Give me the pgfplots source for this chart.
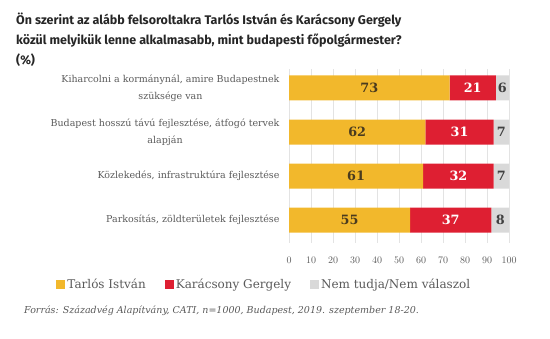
\documentclass[border=0pt]{standalone}
\usepackage{pgfplots}
\pgfplotsset{compat=1.18}
\usepackage{fontspec}
\setmainfont{DejaVu Serif}
\newfontfamily\titlefont{Fira Sans}
\definecolor{cyel}{HTML}{F2B82C}
\definecolor{cred}{HTML}{DE1F32}
\definecolor{cgray}{HTML}{D9D9D9}
\definecolor{cgrid}{HTML}{E3E3E3}
\definecolor{ctext}{HTML}{5A5A5A}
\definecolor{cbrown}{HTML}{4A3B1E}
\begin{document}
\begin{tikzpicture}[x=1bp,y=1bp]
\path[use as bounding box] (0,0) rectangle (550,-338);
\node[anchor=north west, align=left, font=\titlefont\bfseries\fontsize{12.5bp}{20bp}\selectfont, text=black!85, inner sep=0] at (16,-13)
 {Ön szerint az alább felsoroltakra Tarlós István és Karácsony Gergely\\közül melyikük lenne alkalmasabb, mint budapesti főpolgármester?\\(\%)};
\begin{axis}[
  at={(289bp,-243bp)}, anchor=south west,
  width=220bp, height=174bp, scale only axis,
  xbar stacked, bar width=25bp,
  xmin=0, xmax=100, ymin=-0.52, ymax=3.43,
  axis line style={draw=none},
  major tick length=0,
  xmajorgrids, grid style={cgrid, line width=0.8bp},
  xtick={0,10,...,100},
  xticklabel style={text=ctext, font=\fontsize{9.7bp}{11bp}\selectfont, yshift=-11bp},
  ytick={0,1,2,3},
  yticklabels={{Parkosítás, zöldterületek fejlesztése},{Közlekedés, infrastruktúra fejlesztése},{Budapest hosszú távú fejlesztése, átfogó tervek\\alapján},{Kiharcolni a kormánynál, amire Budapestnek\\szüksége van}},
  yticklabel style={align=center, text=ctext, font=\fontsize{9.5bp}{17bp}\selectfont, xshift=-6bp},
  legend style={at={(-0.112,-0.238)}, anchor=center, draw=none, fill=none, legend columns=3,
    font=\fontsize{12bp}{14bp}\selectfont, text=ctext,
    /tikz/every even column/.append style={column sep=17bp}},
  legend image code/.code={\fill[#1, draw=none] (1bp,-5bp) rectangle (10bp,4bp);},
]
\addplot[fill=cyel, draw=none] coordinates {(55,0) (61,1) (62,2) (73,3)};
\addplot[fill=cred, draw=none] coordinates {(37,0) (32,1) (31,2) (21,3)};
\addplot[fill=cgray, draw=none] coordinates {(8,0) (7,1) (7,2) (6,3)};
\legend{Tarlós István, Karácsony Gergely, Nem tudja/Nem válaszol}
\end{axis}
\begin{axis}[
  at={(289bp,-243bp)}, anchor=south west,
  width=220bp, height=174bp, scale only axis,
  xmin=0, xmax=100, ymin=-0.52, ymax=3.43,
  hide axis,
  nodes near coords, point meta=explicit symbolic,
  every node near coord/.append style={anchor=center, font=\bfseries\fontsize{12.8bp}{15bp}\selectfont},
]
\addplot[draw=none, mark=none, every node near coord/.append style={text=cbrown}] table[meta=l] {
x y l
27.5 0 55
30.5 1 61
31 2 62
36.5 3 73
};
\addplot[draw=none, mark=none, every node near coord/.append style={text=white}] table[meta=l] {
x y l
73.5 0 37
77 1 32
77.5 2 31
83.5 3 21
};
\addplot[draw=none, mark=none, every node near coord/.append style={text=black!75}] table[meta=l] {
x y l
96 0 8
96.5 1 7
96.5 2 7
97 3 6
};
\end{axis}
\node[anchor=west, font=\itshape\fontsize{9.5bp}{12bp}\selectfont, text=ctext, inner sep=0] at (24,-311)
 {Forrás: Századvég Alapítvány, CATI, n=1000, Budapest, 2019. szeptember 18-20.};
\end{tikzpicture}
\end{document}
